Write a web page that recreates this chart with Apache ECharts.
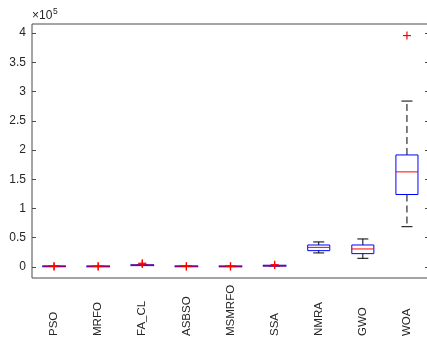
<!DOCTYPE html>
<html><head><meta charset="utf-8">
<script src="https://cdn.jsdelivr.net/npm/echarts@6/dist/echarts.min.js"></script>
<style>html,body{margin:0;padding:0;background:#fff;overflow:hidden}#c{width:427px;height:345px}</style>
</head><body><div id="c"></div>
<script>
const categories = ['PSO','MRFO','FA_CL','ASBSO','MSMRFO','SSA','NMRA','GWO','WOA'];
const whiskerLow  = [800,  700,  2700, 800,  700,  1800, 23900, 14700, 68800];
const q1          = [800,  700,  2700, 800,  700,  1800, 27800, 22700, 123900];
const median      = [1000, 900,  2900, 1000, 900,  2000, 33400, 30700, 162600];
const q3          = [1200, 1100, 3200, 1200, 1100, 2300, 37500, 37500, 191600];
const whiskerHigh = [1200, 1100, 3200, 1200, 1100, 2300, 42700, 47800, 283800];
const outliers = [[0, 800], [0, 1100], [1, 800], [1, 1000], [2, 5000], [2, 6300], [3, 800], [3, 1100],
                  [4, 800], [4, 1000], [5, 3300], [5, 3600], [8, 395900]];
const yTicks = [0, 50000, 100000, 150000, 200000, 250000, 300000, 350000, 400000];
const yMin = -19000, yMax = 415700;

const boxData = categories.map((c, i) => [i, whiskerLow[i], q1[i], median[i], q3[i], whiskerHigh[i]]);

const chart = echarts.init(document.getElementById('c'), null, {renderer: 'canvas'});
const font = 'Liberation Sans, Arial, Helvetica, sans-serif';
const txt = '#262626';

function boxRender(params, api) {
  const i = api.value(0);
  const bw = api.size([1, 0])[0] * 0.5;
  const cw = bw / 2;
  const lo = api.coord([i, api.value(1)]);
  const b1 = api.coord([i, api.value(2)]);
  const md = api.coord([i, api.value(3)]);
  const b3 = api.coord([i, api.value(4)]);
  const hi = api.coord([i, api.value(5)]);
  const x = lo[0];
  const tiny = (b1[1] - b3[1]) < 2;
  const dash = {stroke: '#000', lineWidth: 1, lineDash: [7, 4], fill: null};
  const solid = {stroke: '#000', lineWidth: 1, fill: null};
  return {
    type: 'group',
    children: [
      {type: 'line', shape: {x1: x, y1: b3[1], x2: x, y2: hi[1]}, style: dash},
      {type: 'line', shape: {x1: x, y1: b1[1], x2: x, y2: lo[1]}, style: dash},
      {type: 'line', shape: {x1: x - cw / 2, y1: hi[1], x2: x + cw / 2, y2: hi[1]}, style: solid},
      {type: 'line', shape: {x1: x - cw / 2, y1: lo[1], x2: x + cw / 2, y2: lo[1]}, style: solid},
      {type: 'rect', shape: {x: x - bw / 2, y: b3[1], width: bw, height: Math.max(b1[1] - b3[1], 0.01)},
        style: {stroke: '#0000ff', lineWidth: tiny ? 1.6 : 1, fill: null}},
      {type: 'line', shape: {x1: x - bw / 2, y1: md[1], x2: x + bw / 2, y2: md[1]},
        style: {stroke: '#ff0000', lineWidth: tiny ? 1.6 : 1, fill: null, opacity: tiny ? 0.55 : 1}}
    ]
  };
}

function plusRender(params, api) {
  const p = api.coord([api.value(0), api.value(1)]);
  const h = 4;
  const st = {stroke: '#ff0000', lineWidth: 1.2, fill: null};
  return {
    type: 'group',
    children: [
      {type: 'line', shape: {x1: p[0] - h, y1: p[1], x2: p[0] + h, y2: p[1]}, style: st},
      {type: 'line', shape: {x1: p[0], y1: p[1] - h, x2: p[0], y2: p[1] + h}, style: st}
    ]
  };
}

const option = {
  animation: false,
  backgroundColor: '#fff',
  grid: {left: 32, right: -2, top: 24, bottom: 67, outerBoundsMode: 'none', containLabel: false,
    show: true, borderColor: '#4a4a4a', borderWidth: 1, backgroundColor: 'transparent'},
  xAxis: {
    type: 'category',
    data: categories,
    boundaryGap: true,
    axisLine: {show: false},
    axisTick: {show: false},
    splitLine: {show: false},
    axisLabel: {rotate: 90, align: 'left', verticalAlign: 'middle', margin: 58, interval: 0,
      color: txt, fontSize: 11.5, fontFamily: font}
  },
  yAxis: [{
    type: 'value', min: yMin, max: yMax,
    axisLine: {show: false},
    splitLine: {show: false},
    axisTick: {show: true, inside: true, length: 4, customValues: yTicks, lineStyle: {color: '#4a4a4a'}},
    axisLabel: {customValues: yTicks, margin: 6, color: txt, fontSize: 12, fontFamily: font,
      formatter: v => String(Math.round(v / 10000) / 10)}
  }, {
    type: 'value', min: yMin, max: yMax, position: 'right',
    axisLine: {show: false},
    splitLine: {show: false},
    axisTick: {show: true, inside: true, length: 4, customValues: yTicks, lineStyle: {color: '#4a4a4a'}},
    axisLabel: {show: false}
  }],
  graphic: [
    {type: 'text', left: 32, top: 10, style: {text: '×10', font: '12px ' + font, fill: txt}},
    {type: 'text', left: 53, top: 7, style: {text: '5', font: '8.5px ' + font, fill: txt}}
  ],
  series: [
    {type: 'custom', renderItem: boxRender, data: boxData, encode: {x: 0, y: [1, 2, 3, 4, 5]}, z: 2},
    {type: 'custom', renderItem: plusRender, data: outliers, encode: {x: 0, y: 1}, z: 3}
  ]
};
chart.setOption(option);
</script>
</body></html>
